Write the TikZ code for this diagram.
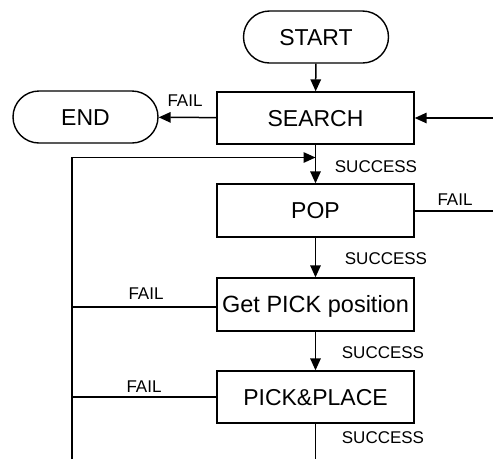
\documentclass[tikz,border=0pt]{standalone}
\usepackage{fontspec}
\setmainfont{Liberation Sans}
\usetikzlibrary{arrows.meta}
\begin{document}
\begin{tikzpicture}[x=1pt,y=-1pt,
  every node/.style={font=\fontsize{23}{27}\selectfont},
  boxnode/.style={draw,line width=1.4pt,minimum width=197pt,minimum height=52pt,inner sep=0pt,text height=16.5pt,text depth=0pt},
  pill/.style={draw,line width=1.4pt,rounded corners=26pt,minimum width=145pt,minimum height=52pt,inner sep=0pt,text height=16.5pt,text depth=0pt},
  lbl/.style={font=\fontsize{17}{20}\selectfont,inner sep=0pt,text height=12.2pt,text depth=0pt},
  conn/.style={line width=1.5pt},
  arr/.style={conn,-{Triangle[length=12pt,width=10.5pt]}}]
\useasboundingbox (0,0) rectangle (493,459);
\node[pill] (start) at (316,37) {START};
\node[pill] (end) at (85.5,117) {END};
\node[boxnode] (search) at (315.5,118) {SEARCH};
\node[boxnode,minimum height=53pt] (pop) at (315.5,210.5) {POP};
\node[boxnode,minimum height=53pt,font=\fontsize{23.5}{28}\selectfont,text height=16.8pt] (get) at (315.5,304.5) {Get PICK position};
\node[boxnode] (pp) at (315.5,397) {PICK\&PLACE};
\coordinate (rin) at (493,118);
\coordinate (rout) at (493,211);
\coordinate (ltop) at (72,157.5);
\coordinate (lbot) at (72,459);
\coordinate (bot) at (315.5,459);
% connectors
\draw[arr] (start) -- (search);
\draw[arr] (search) -- (end);
\draw[arr] (rin) -- (search);
\draw[arr] (search) -- (pop);
\draw[arr] (pop) -- (get);
\draw[arr] (get) -- (pp);
\draw[conn] (pp) -- (bot);
\draw[conn] (pop.east |- rout) -- (rout);
\draw[arr] (lbot) -- (ltop) -- (ltop -| search.south);
\draw[conn] ([yshift=-2.5pt]get.west) -- ([yshift=-2.5pt]get.west -| ltop);
\draw[conn] (pp.west) -- (pp.west -| ltop);
% labels
\node[lbl] (f1) at (185,100) {FAIL};
\node[lbl] (s1) at (376,166) {SUCCESS};
\node[lbl] (f2) at (455,199) {FAIL};
\node[lbl] (s2) at (386,258.5) {SUCCESS};
\node[lbl] (f3) at (146,293.5) {FAIL};
\node[lbl] (s3) at (383,352.5) {SUCCESS};
\node[lbl] (f4) at (144,386.5) {FAIL};
\node[lbl] (s4) at (383,437.5) {SUCCESS};
\end{tikzpicture}
\end{document}
